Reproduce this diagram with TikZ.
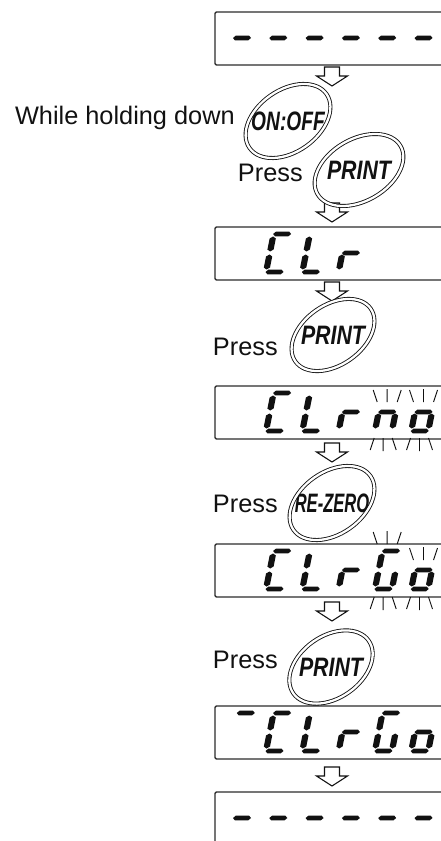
\documentclass[tikz,border=0pt]{standalone}
\usepackage{fontspec}
\setmainfont{Liberation Sans}
\usepackage{graphicx}
\usepackage{tikz}
\usetikzlibrary{positioning,calc}
\definecolor{cInk}{HTML}{111111}
\definecolor{cFrame}{HTML}{2B2B2B}
\tikzset{
  disp-frame/.style={draw=cFrame,line width=1.1pt,rounded corners=1pt},
  seg-fill/.style={fill=cInk},
  flash-mark/.style={draw=cInk,line width=0.7pt},
  step-text/.style={inner sep=0pt,font=\fontsize{19}{22}\selectfont,text=cInk},
  key-label/.style={inner sep=0pt,font=\fontsize{20}{22}\selectfont\bfseries\itshape,text=cInk},
  key-ring/.style={draw=cInk,line width=0.65pt,double=white,double distance=1.7pt},
  flow-arrow/.pic={
    \draw[draw=cInk,line width=0.8pt,fill=white,line join=miter]
      (-7.5,0) -- (7.5,0) -- (7.5,9) -- (15.5,9) -- (0,19) -- (-15.5,9) -- (-7.5,9) -- cycle;
  },
}
% condensed key caption
\newcommand\keytext[2][0.72]{\scalebox{#1}[1]{#2}}
% one segment, local upright frame (y up)
\newcommand\hseg[3]{\fill[seg-fill] (#1,#3) -- ({#1+2.4},{#3+2.4}) -- ({#2-2.4},{#3+2.4})
  -- (#2,#3) -- ({#2-2.4},{#3-2.4}) -- ({#1+2.4},{#3-2.4}) -- cycle;}
\newcommand\vseg[3]{\fill[seg-fill] (#1,#2) -- ({#1+3.1},{#2-2}) -- ({#1+3.1},{#3+2})
  -- (#1,#3) -- ({#1-3.1},{#3+2}) -- ({#1-3.1},{#2-2}) -- cycle;}
\newcommand\lcdsega{\hseg{-0.5}{17.5}{38}}
\newcommand\lcdsegb{\vseg{17}{35.5}{20.5}}
\newcommand\lcdsegc{\vseg{17}{17.5}{2.5}}
\newcommand\lcdsegd{\hseg{-0.5}{17.5}{0}}
\newcommand\lcdsege{\vseg{0}{17.5}{2.5}}
\newcommand\lcdsegf{\vseg{0}{35.5}{20.5}}
\newcommand\lcdsegg{\hseg{-0.5}{17.5}{19}}
% digit: column, middle y, segments
\newcommand\lcddigit[3]{%
  \edef\lcdlist{#3}%
  \begin{scope}[shift={({242+36.3*(#1-1)-12.3},{#2+19})},x=0.75pt,y=0.75pt,xslant=0.2]
    \foreach \s in \lcdlist {\csname lcdseg\s\endcsname}
  \end{scope}}
% blinking marks: column, top of upper marks, top of lower marks
\newcommand\lcdflash[3]{%
  \pgfmathsetmacro\fx{242+36.3*(#1-1)}%
  \draw[flash-mark] ({\fx-14},{#2}) -- ({\fx-10},{#2+12})
    ({\fx},{#2-1}) -- ({\fx},{#2+12}) ({\fx+14},{#2}) -- ({\fx+10},{#2+12});
  \draw[flash-mark] ({\fx-13},{#3}) -- ({\fx-17},{#3+12})
    ({\fx-4},{#3}) -- ({\fx-4},{#3+13}) ({\fx+5},{#3}) -- ({\fx+9},{#3+12});}

\begin{document}
\begin{tikzpicture}[x=0.75pt,y=-0.75pt]
  \useasboundingbox (0,0) rectangle (441,841);
  \clip (0,0) rectangle (441,841);

  % display windows (open to the right)
  \foreach \t in {12,227,386,544,706,792}
    \draw[disp-frame] (445,\t) -- (215,\t) -- (215,\t+53) -- (445,\t+53);

  % ------ ------
  \foreach \c in {1,...,6} {\lcddigit{\c}{38}{g}}
  % CLr
  \lcddigit{2}{253}{a,d,e,f}
  \lcddigit{3}{253}{d,e,f}
  \lcddigit{4}{253}{e,g}
  % CLrno
  \lcddigit{2}{412}{a,d,e,f}
  \lcddigit{3}{412}{d,e,f}
  \lcddigit{4}{412}{e,g}
  \lcddigit{5}{412}{c,e,g}
  \lcddigit{6}{412}{c,d,e,g}
  \lcdflash{5}{390}{438}
  \lcdflash{6}{390}{438}
  % CLrGo
  \lcddigit{2}{570}{a,d,e,f}
  \lcddigit{3}{570}{d,e,f}
  \lcddigit{4}{570}{e,g}
  \lcddigit{5}{570}{a,c,d,e,f}
  \lcddigit{6}{570}{c,d,e,g}
  \lcdflash{5}{532}{597}
  \lcdflash{6}{548}{597}
  % -CLrGo
  \lcddigit{1}{732}{a}
  \lcddigit{2}{732}{a,d,e,f}
  \lcddigit{3}{732}{d,e,f}
  \lcddigit{4}{732}{e,g}
  \lcddigit{5}{732}{a,c,d,e,f}
  \lcddigit{6}{732}{c,d,e,g}
  % ------ ------
  \foreach \c in {1,...,6} {\lcddigit{\c}{818}{g}}

  % flow arrows
  \foreach \y in {67,203,282,443,602,767}
    \pic at (332,\y) {flow-arrow};

  % keys and instructions
  \node[key-label] (kOnOff) at (288,121) {\keytext{ON:OFF}};
  \draw[key-ring,rotate around={35:(kOnOff.center)}] (kOnOff.center) ellipse [x radius=47,y radius=31];
  \node[step-text,anchor=base east] (tHold) at (235,125) {While holding down};

  \node[key-label] (kPrintA) at (359,170) {\keytext[0.8]{PRINT}};
  \draw[key-ring,rotate around={30:(kPrintA.center)}] (kPrintA.center) ellipse [x radius=48,y radius=31];
  \node[step-text,anchor=base east] (tPressA) at (303,182) {Press};

  \node[key-label] (kPrintB) at (333,335) {\keytext[0.8]{PRINT}};
  \draw[key-ring,rotate around={35:(kPrintB.center)}] (kPrintB.center) ellipse [x radius=46,y radius=30];
  \node[step-text,anchor=base east] (tPressB) at (278,355) {Press};

  \node[key-label] (kReZero) at (332,503) {\keytext[0.62]{RE-ZERO}};
  \draw[key-ring,rotate around={35:(kReZero.center)}] (kReZero.center) ellipse [x radius=47,y radius=31];
  \node[step-text,anchor=base east] (tPressC) at (278,512) {Press};

  \node[key-label] (kPrintC) at (331,667) {\keytext[0.8]{PRINT}};
  \draw[key-ring,rotate around={35:(kPrintC.center)}] (kPrintC.center) ellipse [x radius=46,y radius=31];
  \node[step-text,anchor=base east] (tPressD) at (278,668) {Press};
\end{tikzpicture}
\end{document}
